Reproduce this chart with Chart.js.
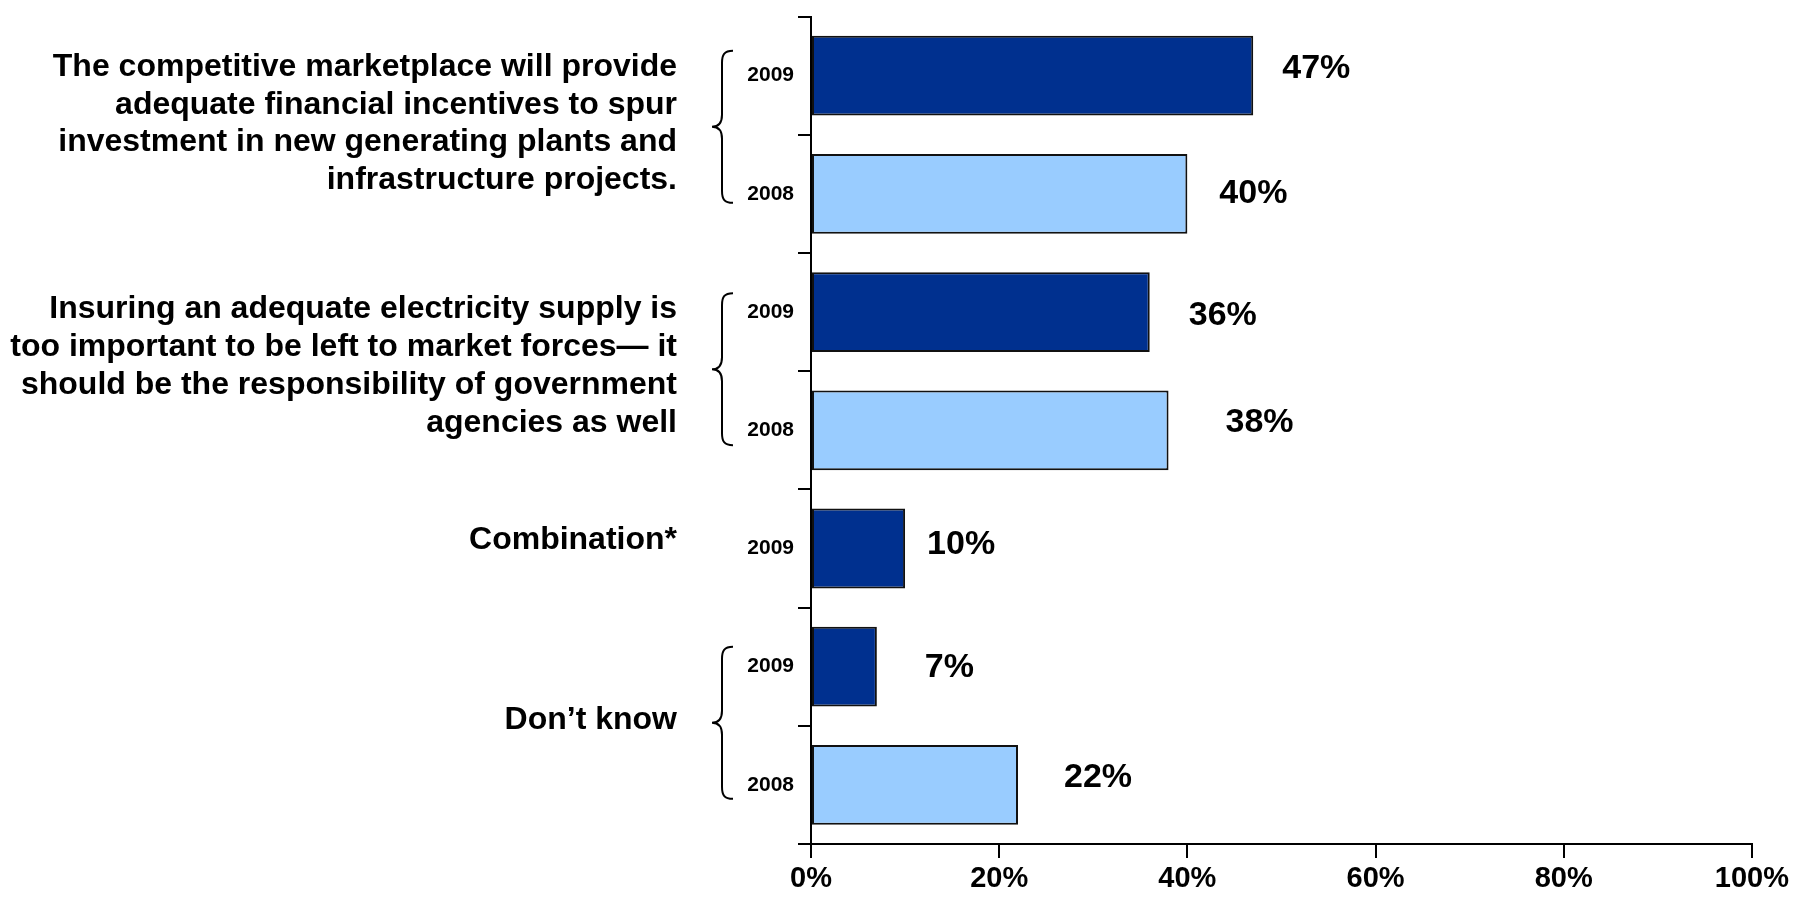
<!DOCTYPE html>
<html>
<head>
<meta charset="utf-8">
<script src="https://cdn.jsdelivr.net/npm/chart.js@4/dist/chart.umd.min.js"></script>
<style>
html, body { margin: 0; padding: 0; background: #fff; }
</style>
</head>
<body>
<canvas id="graphique-opinions" width="1793" height="897"></canvas>
<script>
// années de chaque barre (libellés de l'axe vertical)
const annees = ['2009', '2008', '2009', '2008', '2009', '2009', '2008'];
// pourcentages de réponses
const valeurs = [47, 40, 36, 38, 10, 7, 22];
// graduations de l'axe horizontal
const graduations = [0, 20, 40, 60, 80, 100];

// libellés des groupes de réponses, et barres de chaque groupe
const groupes = [
    ['The competitive marketplace will provide',
     'adequate financial incentives to spur',
     'investment in new generating plants and',
     'infrastructure projects.'],
    ['Insuring an adequate electricity supply is',
     'too important to be left to market forces\u2014 it',
     'should be the responsibility of government',
     'agencies as well'],
    ['Combination*'],
    ['Don\u2019t know']
];
const barresGroupes = [[0, 1], [2, 3], [4], [5, 6]];

// petits décalages verticaux des groupes (texte + accolade)
const decalageGroupes = [-8, -2, -5, -3];
// décalage des étiquettes de valeur par rapport au bout des barres [dx, dy]
const decalageEtiquettes = [[29, -7], [32, 0], [39, 4], [57, -8], [22, -4], [48, 1], [46, -7]];

const police = '"Liberation Sans", Arial, sans-serif';
const couleurMap = { '2009': '#00308F', '2008': '#99CCFF' };

// étiquettes "xx%" à droite des barres
const pluginEtiquettes = {
    id: 'etiquettes',
    afterDatasetsDraw(chart) {
        const ctx = chart.ctx;
        const meta = chart.getDatasetMeta(0);
        ctx.save();
        ctx.font = 'bold 34px ' + police;
        ctx.fillStyle = '#000';
        ctx.textAlign = 'left';
        ctx.textBaseline = 'middle';
        meta.data.forEach((barre, i) => {
            const d = decalageEtiquettes[i];
            ctx.fillText(valeurs[i] + '%', barre.x + d[0], barre.y + d[1]);
        });
        ctx.restore();
    }
};

// libellés des groupes et accolades à gauche de l'axe
const pluginGroupes = {
    id: 'groupes',
    afterDraw(chart) {
        const ctx = chart.ctx;
        const meta = chart.getDatasetMeta(0);
        const interligne = 37.7;
        ctx.save();
        ctx.font = 'bold 32px ' + police;
        ctx.fillStyle = '#000';
        ctx.textAlign = 'right';
        ctx.textBaseline = 'middle';
        groupes.forEach((lignes, g) => {
            const idx = barresGroupes[g];
            const premier = meta.data[idx[0]];
            const dernier = meta.data[idx[idx.length - 1]];
            const milieu = (premier.y + dernier.y) / 2 + decalageGroupes[g];
            const y0 = milieu - 3 - (lignes.length - 1) * interligne / 2;
            lignes.forEach((txt, k) => {
                ctx.fillText(txt, 677, y0 + k * interligne);
            });

            // accolade pour les groupes de deux barres
            if (idx.length > 1) {
                const haut = milieu - 76;
                const bas = milieu + 76;
                const xd = 733, xm = 722, xp = 712, r = 12;
                ctx.beginPath();
                ctx.lineWidth = 2;
                ctx.strokeStyle = '#000';
                ctx.moveTo(xd, haut);
                ctx.bezierCurveTo(xm + 2, haut, xm, haut + 4, xm, haut + r);
                ctx.lineTo(xm, milieu - r);
                ctx.bezierCurveTo(xm, milieu - 4, xm - 3, milieu, xp, milieu);
                ctx.bezierCurveTo(xm - 3, milieu, xm, milieu + 4, xm, milieu + r);
                ctx.lineTo(xm, bas - r);
                ctx.bezierCurveTo(xm, bas - 4, xm + 2, bas, xd, bas);
                ctx.stroke();
            }
        });
        ctx.restore();
    }
};

const ctx = document.getElementById('graphique-opinions').getContext('2d');
new Chart(ctx, {
    type: 'bar',
    data: {
        labels: annees,
        datasets: [{
            data: valeurs,
            backgroundColor: annees.map(a => couleurMap[a]),
            borderColor: '#111',
            borderWidth: 2,
            borderSkipped: false,
            barPercentage: 0.675,
            categoryPercentage: 1
        }]
    },
    options: {
        indexAxis: 'y',
        responsive: false,
        animation: false,
        layout: { padding: { top: 12, right: 39, bottom: 0, left: 0 } },
        plugins: {
            legend: { display: false },
            tooltip: { enabled: false }
        },
        scales: {
            x: {
                type: 'linear',
                min: graduations[0],
                max: graduations[graduations.length - 1],
                afterBuildTicks: scale => {
                    scale.ticks = graduations.map(v => ({ value: v }));
                },
                ticks: {
                    callback: v => v + '%',
                    color: '#000',
                    padding: 4,
                    maxRotation: 0,
                    font: { family: police, size: 29, weight: 'bold' }
                },
                grid: { drawOnChartArea: false, tickLength: 14, color: '#000', lineWidth: 2 },
                border: { color: '#000', width: 2 },
                afterFit: scale => { scale.height = 53; }
            },
            y: {
                type: 'category',
                ticks: {
                    color: '#000',
                    padding: 4,
                    font: { family: police, size: 21, weight: 'bold' }
                },
                grid: { drawOnChartArea: false, offset: true, tickLength: 13, color: '#000', lineWidth: 2 },
                border: { color: '#000', width: 2 },
                afterFit: scale => { scale.width = 811; }
            }
        }
    },
    plugins: [pluginEtiquettes, pluginGroupes]
});
</script>
</body>
</html>
